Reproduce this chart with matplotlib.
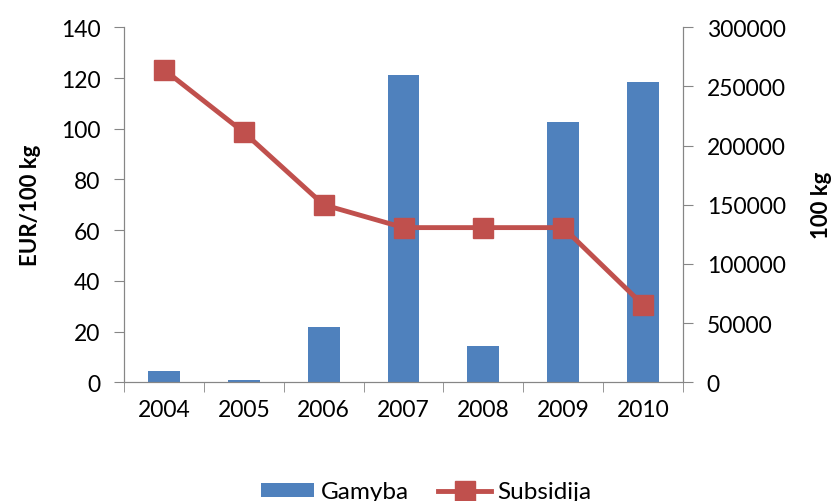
import matplotlib.pyplot as plt
import numpy as np

plt.rcParams['font.family'] = ['Lato', 'DejaVu Sans']

years = ['2004', '2005', '2006', '2007', '2008', '2009', '2010']
gamyba = [9300, 1700, 46500, 259500, 30500, 220000, 253500]   # 100 kg
subsidija = [123.3, 98.6, 70.0, 61.0, 61.0, 61.0, 30.5]       # EUR/100 kg

blue = '#4F81BD'
red = '#C0504D'
grey = '#868686'

fig = plt.figure(figsize=(8.39, 5.02), dpi=100)
ax = fig.add_axes([0.1478, 0.2365, 0.6663, 0.7071])
ax2 = ax.twinx()

x = np.arange(len(years))
bars = ax2.bar(x, gamyba, width=0.4, color=blue, label='Gamyba')
line, = ax.plot(x, subsidija, color=red, lw=3.5, marker='s', markersize=14,
                label='Subsidija')

# line axis on top of the bar axis
ax.set_zorder(ax2.get_zorder() + 1)
ax.patch.set_visible(False)

ax.set_xlim(-0.5, len(years) - 0.5)
ax.set_ylim(0, 140)
ax.set_yticks(range(0, 141, 20))
ax2.set_ylim(0, 300000)
ax2.set_yticks(range(0, 300001, 50000))

ax.set_xticks(x)
ax.set_xticklabels(years)
ax.set_xticks(np.arange(-0.5, len(years)), minor=True)
ax.tick_params(axis='x', which='major', length=0, pad=12, labelsize=16.5)
ax.tick_params(axis='x', which='minor', length=7, color=grey, direction='out')
ax.tick_params(axis='y', length=7, color=grey, labelsize=16.5, pad=10)
ax2.tick_params(axis='y', length=7, color=grey, labelsize=16.5, pad=10)

for a in (ax, ax2):
    a.spines['top'].set_visible(False)
    for s in ('left', 'right', 'bottom'):
        a.spines[s].set_color(grey)

ax.set_ylabel('EUR/100 kg', fontsize=16, fontweight='bold', labelpad=14)
ax2.set_ylabel('100 kg', fontsize=16, fontweight='bold', labelpad=18)

fig.legend([bars, line], ['Gamyba', 'Subsidija'], loc='center',
           bbox_to_anchor=(0.508, 0.018), ncol=2, frameon=False, fontsize=17.5,
           handlelength=2.2, handleheight=0.55, columnspacing=1.2,
           handletextpad=0.25)

fig.savefig('out.png', dpi=100)
